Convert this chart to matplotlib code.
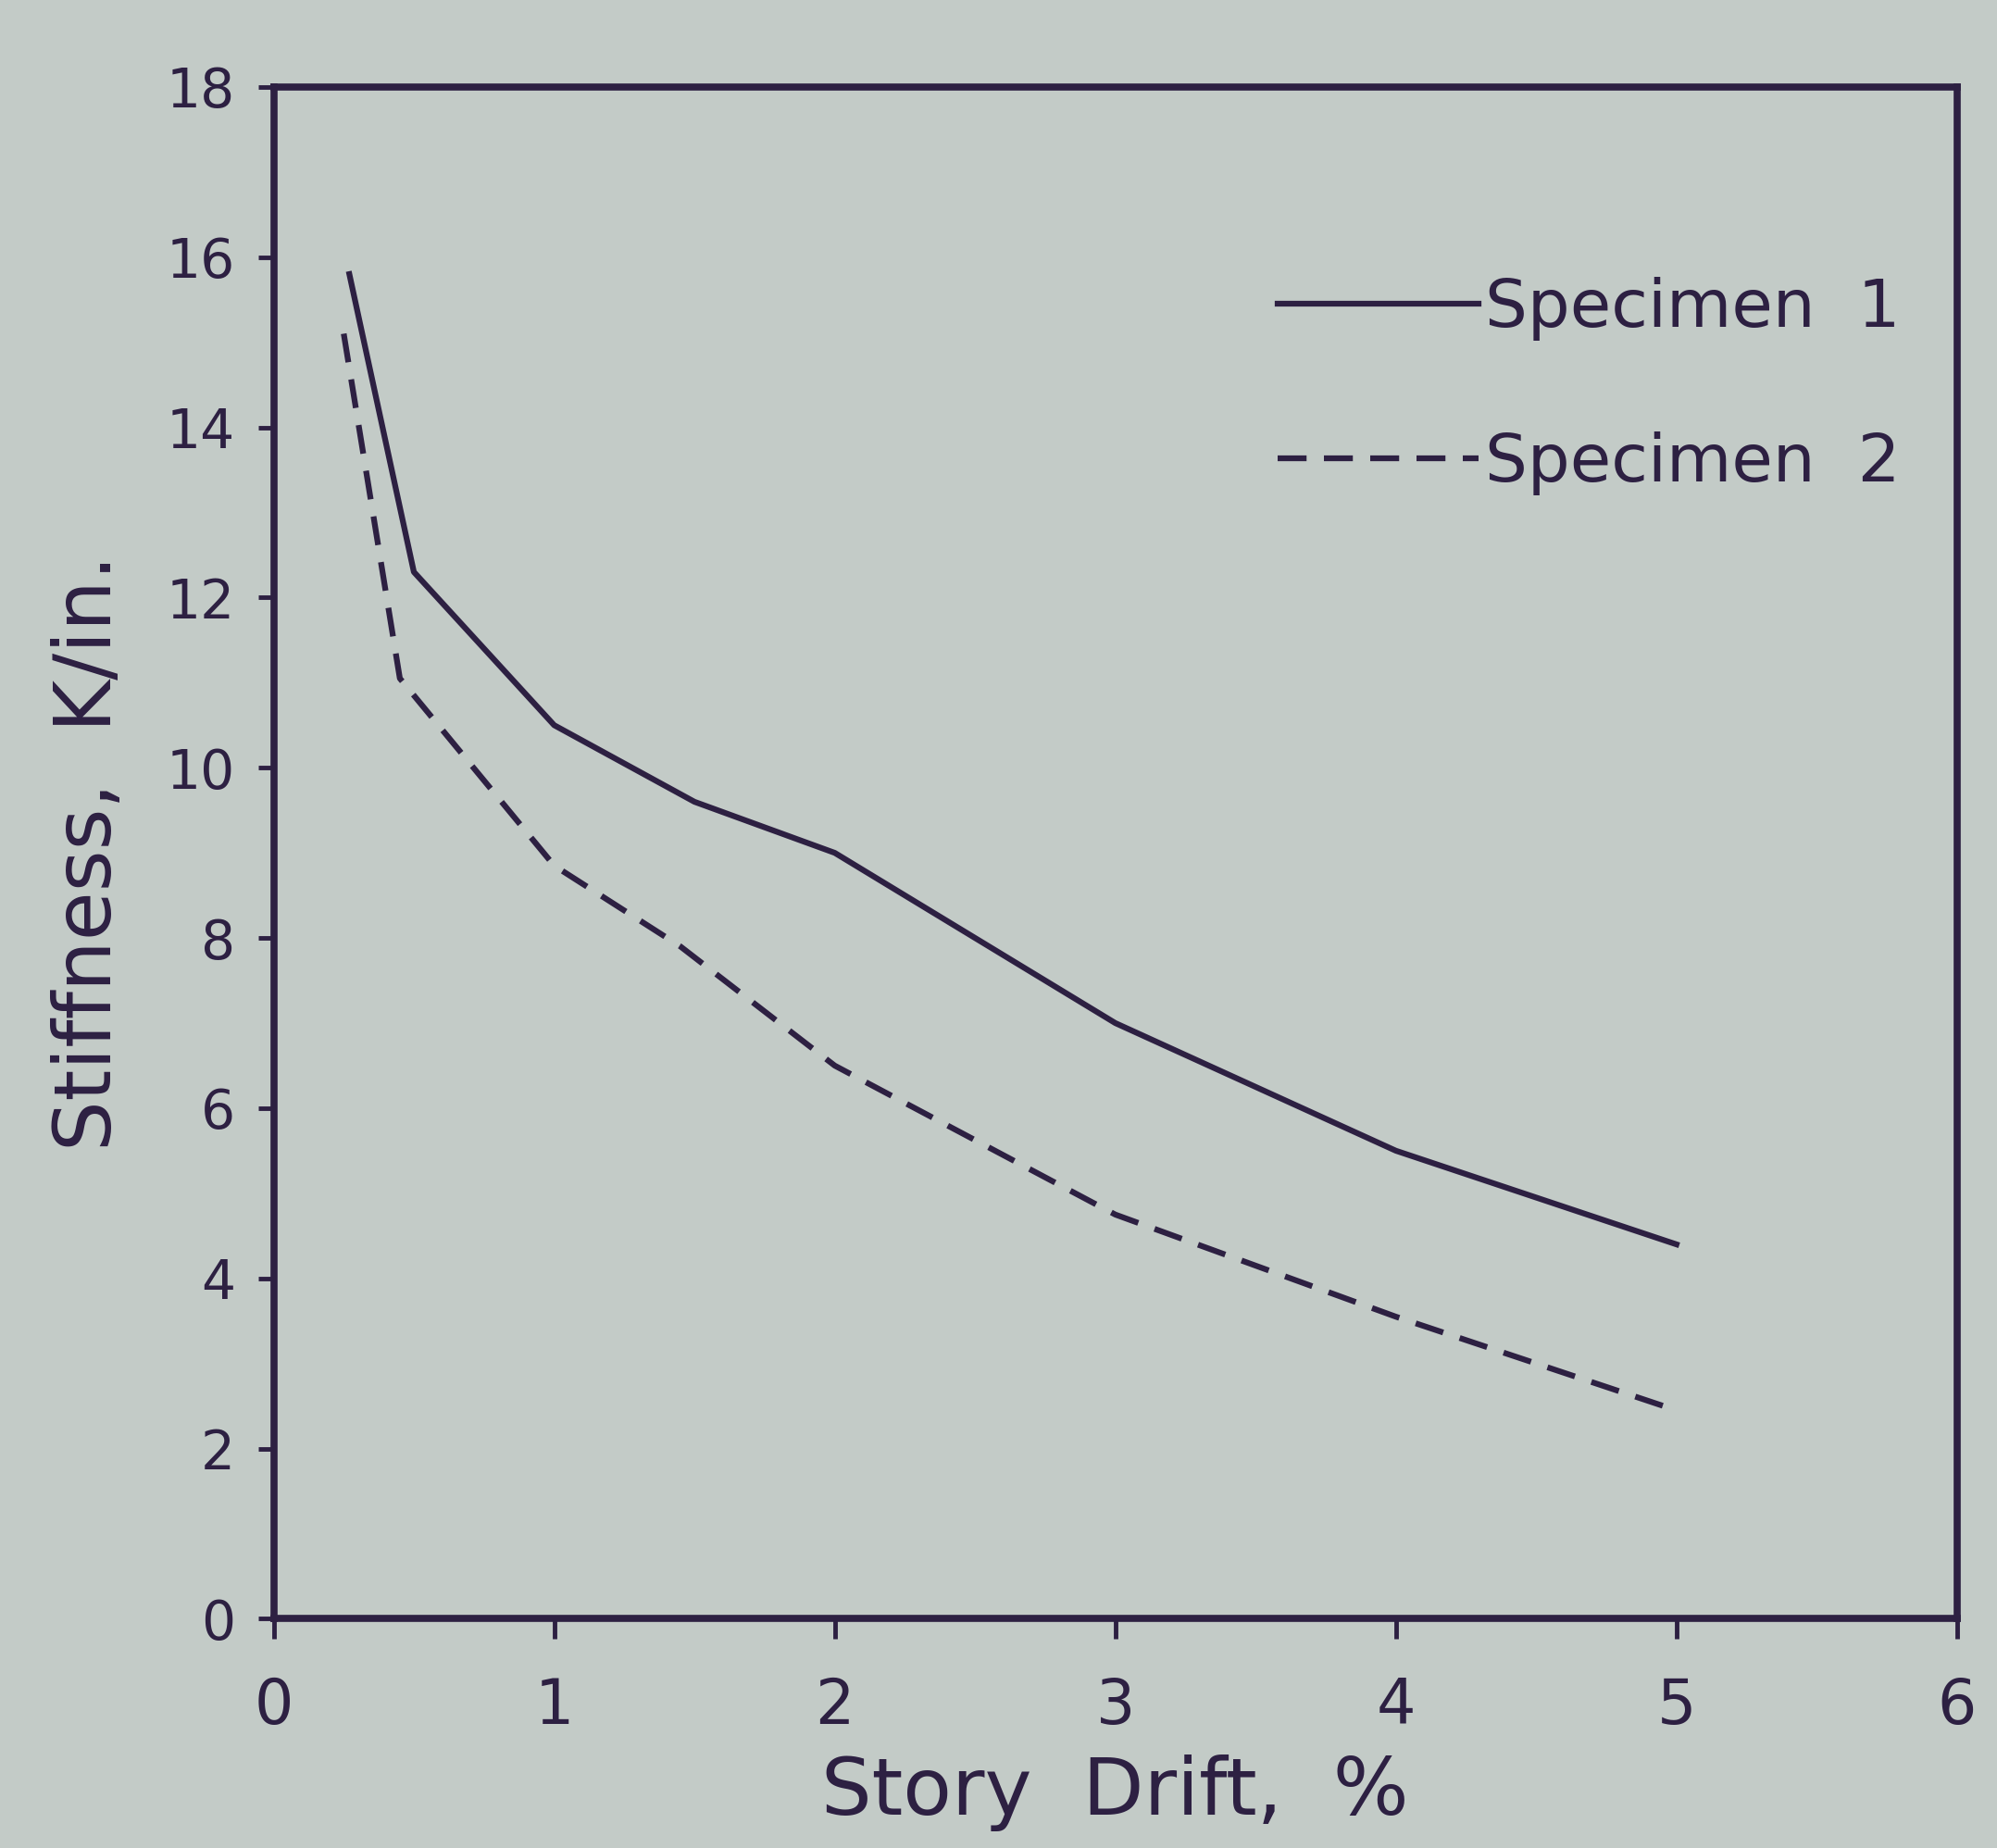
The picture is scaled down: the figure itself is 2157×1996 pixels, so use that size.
import matplotlib
matplotlib.use("Agg")
import matplotlib.pyplot as plt

# stiffness degradation vs drift for the two specimens
drift_1 = [0.27, 0.5, 1.0, 1.5, 2.0, 3.0, 4.0, 5.0]
stiff_1 = [15.8, 12.3, 10.5, 9.6, 9.0, 7.0, 5.5, 4.4]

drift_2 = [0.25, 0.45, 1.0, 1.45, 2.0, 3.0, 4.0, 5.0]
stiff_2 = [15.1, 11.05, 8.85, 7.9, 6.5, 4.75, 3.55, 2.45]

x_ticks = [0, 1, 2, 3, 4, 5, 6]
y_ticks = [0, 2, 4, 6, 8, 10, 12, 14, 16, 18]

paper = "#c3cbc7"
ink = "#2d2042"

plt.rcParams["font.family"] = ["DejaVu Sans"]

fig = plt.figure(figsize=(21.57, 19.96), dpi=100, facecolor=paper)
ax = fig.add_axes([0.137, 0.124, 0.843, 0.829], facecolor=paper)

ax.plot(drift_1, stiff_1, color=ink, lw=4.5, label="Specimen  1")
ax.plot(drift_2, stiff_2, color=ink, lw=4.5, ls=(0, (5, 3)), label="Specimen  2")

ax.set_xlim(0, 6)
ax.set_ylim(0, 18)
ax.set_xticks(x_ticks)
ax.set_yticks(y_ticks)

for side in ["left", "right", "top", "bottom"]:
    ax.spines[side].set_color(ink)
    ax.spines[side].set_linewidth(5.5)

ax.tick_params(axis="x", direction="out", length=16, width=3.5, color=ink,
               pad=28, labelsize=48, labelcolor=ink)
ax.tick_params(axis="y", direction="out", length=12, width=3.5, color=ink,
               pad=18, labelsize=42, labelcolor=ink)

ax.set_xlabel("Story  Drift,  %", fontsize=62, color=ink, labelpad=14)
ax.set_ylabel("Stiffness,  K/in.", fontsize=62, color=ink, labelpad=30)

leg = ax.legend(loc="upper left", bbox_to_anchor=(0.64, 0.85),
                bbox_transform=fig.transFigure, frameon=False, fontsize=52,
                handlelength=3.0, handletextpad=0.1, labelspacing=1.35,
                borderpad=0, borderaxespad=0)
for t in leg.get_texts():
    t.set_color(ink)

fig.savefig("out.png", dpi=100, facecolor=paper)
plt.close()
